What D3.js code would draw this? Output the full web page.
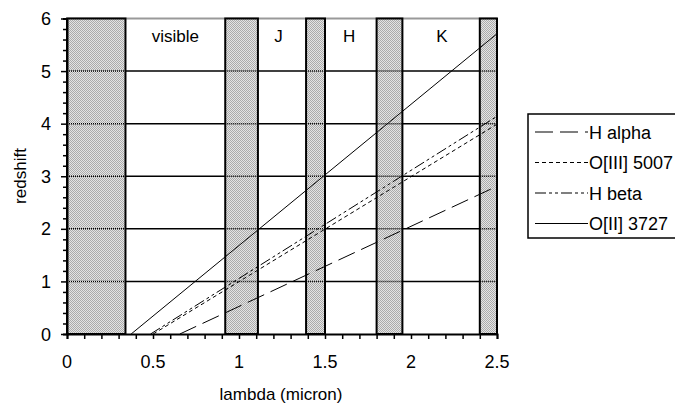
<!DOCTYPE html>
<html>
<head>
<meta charset="utf-8">
<script src="https://cdn.jsdelivr.net/npm/d3@7"></script>
<style>
  body { margin: 0; background: #fff; }
  text { font-family: "Liberation Sans", Arial, sans-serif; fill: #000; }
</style>
</head>
<body>
<svg id="chart" width="675" height="408"></svg>
<script>
// atmospheric absorption bands (micron)
var bandStart = [0, 0.92, 1.39, 1.80, 2.40];
var bandEnd = [0.34, 1.11, 1.50, 1.95, 2.50];
// window labels
var windowLabels = ["visible", "J", "H", "K"];
var windowLabelX = [0.63, 1.23, 1.64, 2.18];
var windowLabelY = 5.55;

// lines: start at z=0, end at the right edge
var seriesNames = ["H alpha", "O[III] 5007", "H beta", "O[II] 3727"];
var lambdaStart = [0.656, 0.501, 0.486, 0.373];
var lambdaEnd = [2.5, 2.5, 2.5, 2.5];
var zEnd = [2.81, 3.99, 4.14, 5.71];
var dashes = ["18,7", "4,3", "11,3,3,3,3,3", null];

var xTicks = [0, 0.5, 1, 1.5, 2, 2.5];
var yTicks = [0, 1, 2, 3, 4, 5, 6];

var svg = d3.select("#chart");
var x = d3.scaleLinear().domain([0, 2.5]).range([67, 497]);
var y = d3.scaleLinear().domain([0, 6]).range([334, 18.5]);

// gray dither pattern
var pat = svg.append("defs").append("pattern")
    .attr("id", "dither")
    .attr("width", 2).attr("height", 2)
    .attr("patternUnits", "userSpaceOnUse");
pat.append("rect").attr("width", 2).attr("height", 2).attr("fill", "#e4e4e4");
pat.append("rect").attr("width", 1).attr("height", 1).attr("fill", "#ababab");
pat.append("rect").attr("x", 1).attr("y", 1).attr("width", 1).attr("height", 1).attr("fill", "#ababab");

// top border (gray)
svg.append("line")
    .attr("x1", x(0)).attr("x2", x(2.5))
    .attr("y1", y(6)).attr("y2", y(6))
    .attr("stroke", "#999").attr("stroke-width", 2);

// solid gridlines
svg.append("g").selectAll("line")
    .data([1, 2, 3, 4, 5])
    .enter().append("line")
    .attr("x1", x(0)).attr("x2", x(2.5))
    .attr("y1", function (d) { return y(d); })
    .attr("y2", function (d) { return y(d); })
    .attr("stroke", "#000").attr("stroke-width", 1.5);

var bands = bandStart.map(function (s, i) { return {s: s, e: bandEnd[i]}; });

svg.append("g").selectAll("rect")
    .data(bands)
    .enter().append("rect")
    .attr("x", function (d) { return x(d.s); })
    .attr("y", y(6))
    .attr("width", function (d) { return x(d.e) - x(d.s); })
    .attr("height", y(0) - y(6))
    .attr("fill", "url(#dither)")
    .attr("stroke", "#000")
    .attr("stroke-width", 2);

// dotted gridlines inside bands
bands.forEach(function (b) {
    svg.append("g").selectAll("line")
        .data([1, 2, 3, 4, 5])
        .enter().append("line")
        .attr("x1", x(b.s)).attr("x2", x(b.e))
        .attr("y1", function (d) { return y(d); })
        .attr("y2", function (d) { return y(d); })
        .attr("stroke", "#000").attr("stroke-width", 1.5)
        .attr("stroke-dasharray", "1,1");
});

// window labels
svg.append("g").selectAll("text")
    .data(windowLabels)
    .enter().append("text")
    .attr("x", function (d, i) { return x(windowLabelX[i]); })
    .attr("y", y(windowLabelY))
    .attr("text-anchor", "middle")
    .attr("font-size", "17px")
    .text(function (d) { return d; });

// redshift lines
var line = d3.line()
    .x(function (d) { return x(d[0]); })
    .y(function (d) { return y(d[1]); });

seriesNames.forEach(function (name, i) {
    svg.append("path")
        .datum([[lambdaStart[i], 0], [lambdaEnd[i], zEnd[i]]])
        .attr("d", line)
        .attr("fill", "none")
        .attr("stroke", "#000")
        .attr("stroke-width", 1)
        .attr("stroke-dasharray", dashes[i]);
});

// axes
var xAxis = svg.append("g")
    .attr("transform", "translate(0," + y(0) + ")");
xAxis.call(d3.axisBottom(x).tickValues(d3.range(0, 2.51, 0.1)).tickSize(5).tickFormat(""));
xAxis.select(".domain").attr("stroke-width", 2);
xAxis.selectAll(".tick line").attr("stroke-width", 1.5);

svg.append("g").selectAll("text")
    .data(xTicks)
    .enter().append("text")
    .attr("x", function (d) { return x(d); })
    .attr("y", 368)
    .attr("text-anchor", "middle")
    .attr("font-size", "18px")
    .text(function (d) { return d; });

var yAxis = svg.append("g")
    .attr("transform", "translate(" + x(0) + ",0)");
yAxis.call(d3.axisLeft(y).tickValues(d3.range(0, 6.01, 0.2)).tickSize(4).tickFormat(""));
yAxis.select(".domain").attr("stroke-width", 2);
yAxis.selectAll(".tick line").attr("stroke-width", 1.5);
yAxis.selectAll(".tick line")
    .filter(function (d) { return Math.abs(d - Math.round(d)) < 1e-6; })
    .attr("x2", -6);

svg.append("g").selectAll("text")
    .data(yTicks)
    .enter().append("text")
    .attr("x", 51)
    .attr("y", function (d) { return y(d) + 6.5; })
    .attr("text-anchor", "end")
    .attr("font-size", "18px")
    .text(function (d) { return d; });

// axis titles
svg.append("text")
    .attr("x", 281).attr("y", 400)
    .attr("text-anchor", "middle")
    .attr("font-size", "17px")
    .text("lambda (micron)");

svg.append("text")
    .attr("transform", "translate(26,176) rotate(-90)")
    .attr("text-anchor", "middle")
    .attr("font-size", "17px")
    .text("redshift");

// legend
var legend = svg.append("g").attr("transform", "translate(528,114)");
legend.append("rect")
    .attr("x", 0).attr("y", 0)
    .attr("width", 160).attr("height", 124)
    .attr("fill", "#fff").attr("stroke", "#000").attr("stroke-width", 1.5);

var item = legend.selectAll("g.item")
    .data(seriesNames)
    .enter().append("g")
    .attr("class", "item")
    .attr("transform", function (d, i) { return "translate(0," + (18 + i * 30.5) + ")"; });

item.append("line")
    .attr("x1", 7).attr("x2", 60)
    .attr("y1", 0).attr("y2", 0)
    .attr("stroke", "#000").attr("stroke-width", 1.2)
    .attr("stroke-dasharray", function (d, i) { return dashes[i]; });

item.append("text")
    .attr("x", 61).attr("y", 6.5)
    .attr("font-size", "18px")
    .text(function (d) { return d; });
</script>
</body>
</html>
